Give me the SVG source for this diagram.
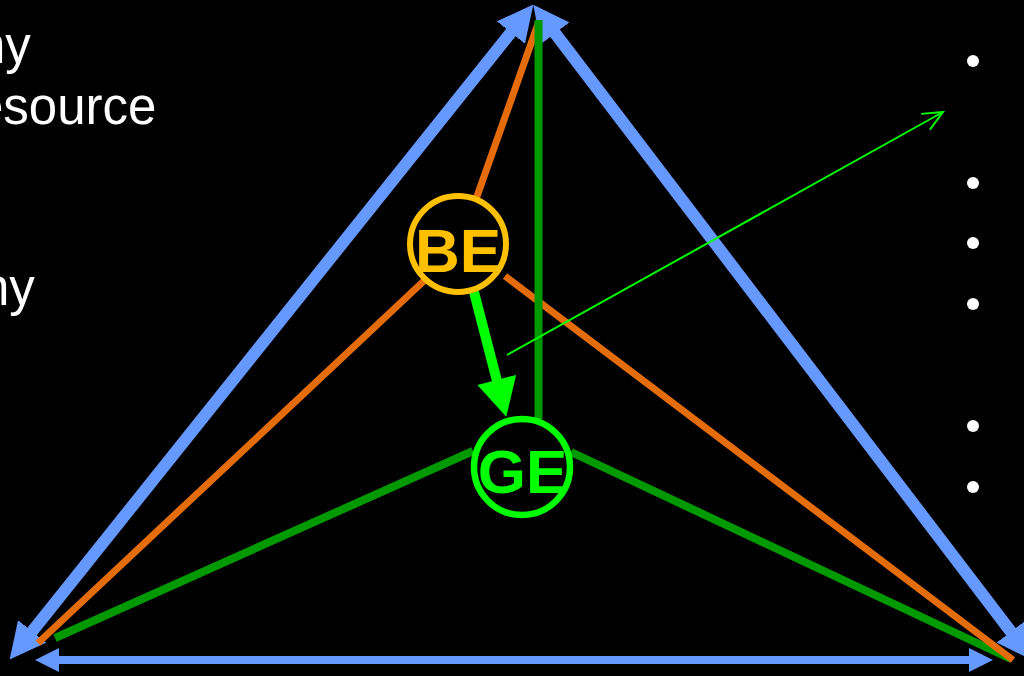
<svg xmlns="http://www.w3.org/2000/svg" width="1024" height="676" viewBox="0 0 1024 676">
<style>
.txt{font-family:"Liberation Sans",Arial,sans-serif;fill:#FFFFFF;font-size:51px}
.lbl{font-family:"Liberation Sans",Arial,sans-serif;font-weight:bold;font-size:62px;text-anchor:middle}
.blue{stroke:#6699FF;fill:none}
.orange{stroke:#E46C0A;stroke-width:7;fill:none}
.dgreen{stroke:#009A00;stroke-width:8;fill:none}
.bullet{fill:#FFFFFF}
</style>
<defs>
<marker id="bh" markerUnits="userSpaceOnUse" markerWidth="36" markerHeight="36" viewBox="0 0 36 36" refX="1" refY="18" orient="auto-start-reverse">
<path d="M0,0 L36,18 L0,36 Z" fill="#6699FF"/>
</marker>
<marker id="bh2" markerUnits="userSpaceOnUse" markerWidth="24" markerHeight="24" viewBox="0 0 24 24" refX="1" refY="12" orient="auto-start-reverse">
<path d="M0,0 L24,12 L0,24 Z" fill="#6699FF"/>
</marker>
<marker id="gh" markerUnits="userSpaceOnUse" markerWidth="40" markerHeight="40" viewBox="0 0 38 40" refX="1" refY="20" orient="auto">
<path d="M0,0 L38,20 L0,40 Z" fill="#00FF00"/>
</marker>
<marker id="gt" markerUnits="userSpaceOnUse" markerWidth="24" markerHeight="24" viewBox="0 0 24 24" refX="22" refY="12" orient="auto">
<path d="M2,3 L22,12 L2,21" fill="none" stroke="#00FF00" stroke-width="2"/>
</marker>
</defs>
<rect x="0" y="0" width="1024" height="676" fill="#000000"/>
<g id="left-text">
<text class="txt" x="-23" y="63">ny</text>
<text class="txt" x="-25" y="124">esource</text>
<text class="txt" x="-19" y="305">ny</text>
</g>
<g id="bullets">
<circle class="bullet" cx="973" cy="61" r="6"/>
<circle class="bullet" cx="973" cy="183" r="6"/>
<circle class="bullet" cx="973" cy="243" r="6"/>
<circle class="bullet" cx="973" cy="304" r="6"/>
<circle class="bullet" cx="973" cy="426" r="6"/>
<circle class="bullet" cx="973" cy="487" r="6"/>
</g>
<g id="connectors">
<line class="blue" stroke-width="12" x1="511.5" y1="31.8" x2="31.5" y2="632.2" marker-start="url(#bh)" marker-end="url(#bh)"/>
<line class="blue" stroke-width="12" x1="554.5" y1="32.5" x2="1011.5" y2="632.5" marker-start="url(#bh)" marker-end="url(#bh)"/>
<line class="blue" stroke-width="8" x1="58" y1="660" x2="970" y2="660" marker-start="url(#bh2)" marker-end="url(#bh2)"/>
<line class="dgreen" x1="473" y1="451" x2="55" y2="638"/>
<line class="dgreen" x1="571" y1="452" x2="1011" y2="659"/>
<line class="orange" x1="539" y1="21" x2="475" y2="202"/>
<line class="orange" x1="427" y1="278" x2="38" y2="643"/>
<line class="orange" x1="505" y1="276" x2="1013" y2="660"/>
<line class="dgreen" x1="538.5" y1="20" x2="538.5" y2="419"/>
<line stroke="#00FF00" stroke-width="10" x1="474" y1="292" x2="497" y2="381" marker-end="url(#gh)"/>
<line stroke="#00FF00" stroke-width="2" x1="507" y1="355" x2="943" y2="112" marker-end="url(#gt)"/>
</g>
<g id="BE">
<circle cx="458" cy="244" r="48" fill="#000000" stroke="#FFC000" stroke-width="6"/>
<text class="lbl" x="458" y="272" fill="#FFC000">BE</text>
</g>
<g id="GE">
<circle cx="522" cy="467" r="48" fill="#000000" stroke="#00FF00" stroke-width="6.5"/>
<text class="lbl" x="522.5" y="493" fill="#00FF00">GE</text>
</g>
</svg>
